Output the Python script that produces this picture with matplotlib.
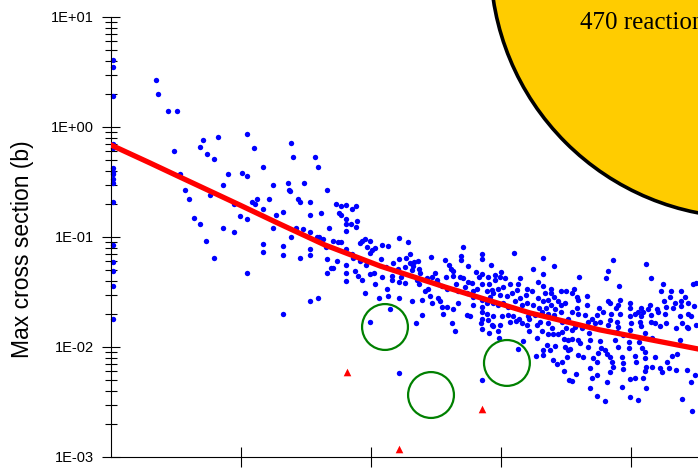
import numpy as np
import matplotlib
matplotlib.use("Agg")
import matplotlib.pyplot as plt
import matplotlib.ticker as ticker
from matplotlib.patches import Circle

# maximum cross sections (b), grouped by region of the x range
x_axis = [0.8, 0.8, 0.8, 0.8, 0.8, 0.8, 0.8, 0.8, 0.8, 0.8, 0.8, 0.8, 0.8, 0.8, 0.8, 0.8]
s_axis = [4.1, 3.5, 1.9, 0.70, 0.64, 0.42, 0.39, 0.37, 0.34, 0.31, 0.21, 0.085, 0.059, 0.049, 0.036, 0.018]

x_light = [
    17.3, 18.1, 21.9, 25.4, 24.2, 26.5, 28.5, 30.0, 31.9, 34.2, 36.5, 39.6,
    34.2, 35.4, 36.9, 39.6, 41.2, 38.1, 43.1, 45.0, 43.1, 47.3, 47.3, 49.6,
    50.4, 52.3, 52.3, 55.0, 52.3, 52.3, 54.2, 55.4, 56.2, 58.5, 58.5, 58.5,
    58.5, 60.8, 62.3, 62.3, 63.5, 66.2, 66.2, 66.2, 68.1, 68.5, 68.8, 69.2,
    70.0, 69.2, 71.2, 71.9, 72.7, 72.7, 74.2, 73.8, 76.5, 76.5, 76.5, 76.5,
    76.5, 78.5, 79.6, 79.2, 80.0, 80.8, 81.5, 83.1, 83.8, 83.1, 83.1, 83.1,
    84.6, 85.4, 86.5, 85.4, 86.9, 87.7, 87.3, 66.2, 76.5, 79.6,
]
s_light = [
    2.7, 2.0, 1.4, 1.4, 0.60, 0.37, 0.27, 0.22, 0.15, 0.13, 0.092, 0.064,
    0.66, 0.76, 0.57, 0.51, 0.81, 0.24, 0.30, 0.37, 0.12, 0.11, 0.20, 0.155,
    0.38, 0.36, 0.86, 0.64, 0.146, 0.047, 0.21, 0.20, 0.22, 0.43, 0.18, 0.086,
    0.073, 0.22, 0.30, 0.12, 0.16, 0.17, 0.083, 0.069, 0.31, 0.27, 0.26, 0.72,
    0.53, 0.10, 0.12, 0.22, 0.21, 0.064, 0.31, 0.118, 0.21, 0.16, 0.11, 0.078,
    0.069, 0.53, 0.43, 0.10, 0.10, 0.165, 0.096, 0.27, 0.12, 0.083, 0.063, 0.047,
    0.052, 0.052, 0.20, 0.092, 0.061, 0.165, 0.090, 0.020, 0.026, 0.028,
]

x_mid = [
    88.5, 90.4, 88.5, 92.7, 94.2, 90.4, 90.4, 92.3, 94.6, 94.2, 90.4, 88.5,
    82.7, 90.4, 92.7, 95.8, 96.5, 97.7, 99.6, 98.5, 100.4, 101.5, 99.6, 104.2,
    106.5, 110.8, 114.2, 115.0, 113.5, 90.4, 90.4, 90.4, 93.8, 95.0, 96.5, 93.1,
    95.8, 98.1, 99.6, 101.2, 101.5, 97.7, 103.8, 105.8, 104.2, 106.2, 106.5, 103.1,
    108.5, 110.8, 108.1, 108.1, 110.4, 111.5, 110.8, 113.1, 113.1, 110.8, 115.0, 116.2,
    116.5, 118.1, 115.8, 118.5, 118.8, 117.7, 118.5, 121.5, 121.9, 120.8, 123.1, 123.5,
    125.4, 125.8, 127.3, 124.6, 128.5, 115.8, 119.6, 122.7, 123.5, 125.8, 126.5, 107.3,
    99.6, 110.8, 117.3, 119.6,
]
s_mid = [
    0.19, 0.195, 0.16, 0.18, 0.19, 0.146, 0.13, 0.13, 0.14, 0.123, 0.113, 0.090,
    0.081, 0.078, 0.070, 0.088, 0.092, 0.096, 0.092, 0.081, 0.076, 0.079, 0.072, 0.085,
    0.083, 0.098, 0.090, 0.070, 0.064, 0.056, 0.047, 0.040, 0.049, 0.044, 0.041, 0.064,
    0.061, 0.056, 0.046, 0.047, 0.037, 0.031, 0.063, 0.053, 0.043, 0.034, 0.029, 0.028,
    0.058, 0.063, 0.044, 0.041, 0.051, 0.043, 0.039, 0.053, 0.038, 0.028, 0.058, 0.055,
    0.059, 0.061, 0.050, 0.051, 0.047, 0.041, 0.037, 0.042, 0.034, 0.032, 0.066, 0.043,
    0.041, 0.037, 0.036, 0.047, 0.062, 0.026, 0.027, 0.029, 0.025, 0.028, 0.026, 0.022,
    0.017, 0.0058, 0.0165, 0.0195,
]

x_heavy = [
    135.4, 134.6, 134.6, 142.7, 142.7, 155.0, 130.0, 137.3, 146.2, 130.8, 131.5, 140.4,
    142.7, 150.0, 128.8, 131.5, 134.2, 135.4, 137.3, 138.8, 141.5, 145.0, 147.7, 149.6,
    151.5, 147.7, 145.4, 142.7, 140.8, 157.3, 156.5, 160.0, 153.5, 150.8, 148.8, 146.5,
    144.6, 146.9, 149.6, 152.3, 154.2, 156.2, 159.6, 157.3, 145.8, 136.2, 132.7, 129.2,
    133.5, 136.9, 139.2, 139.2, 127.3, 129.2, 133.5, 131.5, 139.2, 142.7, 142.7, 144.6,
    146.9, 148.8, 150.8, 152.7, 155.4, 158.1, 160.0, 160.4, 152.7, 154.6, 156.9, 150.4,
    146.9, 144.6, 142.7, 136.9, 138.1, 142.7, 127.7, 131.2, 145.0, 146.5, 149.6, 153.5,
    155.8, 158.1, 142.3,
]
s_heavy = [
    0.081, 0.067, 0.062, 0.070, 0.063, 0.072, 0.056, 0.055, 0.056, 0.051, 0.049, 0.048,
    0.046, 0.048, 0.043, 0.044, 0.043, 0.042, 0.039, 0.038, 0.043, 0.043, 0.045, 0.043,
    0.042, 0.041, 0.037, 0.037, 0.034, 0.042, 0.037, 0.034, 0.037, 0.035, 0.034, 0.033,
    0.032, 0.031, 0.030, 0.029, 0.031, 0.033, 0.030, 0.028, 0.0285, 0.035, 0.037, 0.034,
    0.032, 0.031, 0.032, 0.0285, 0.023, 0.023, 0.025, 0.022, 0.024, 0.027, 0.023, 0.025,
    0.025, 0.024, 0.025, 0.023, 0.026, 0.024, 0.025, 0.019, 0.0195, 0.019, 0.018, 0.019,
    0.019, 0.020, 0.021, 0.0195, 0.019, 0.018, 0.020, 0.0165, 0.0176, 0.016, 0.016, 0.017,
    0.0172, 0.0165, 0.0165,
]

x_rare = [
    166.2, 162.3, 170.4, 166.2, 193.1, 191.2, 190.4, 180.0, 164.2, 166.2, 169.2, 161.9,
    173.1, 175.0, 178.1, 177.3, 169.2, 166.9, 170.4, 164.2, 166.2, 168.1, 171.9, 173.1,
    174.6, 179.2, 183.1, 179.6, 183.1, 191.2, 162.3, 164.6, 167.3, 169.2, 170.8, 173.1,
    170.4, 168.1, 165.8, 163.1, 177.3, 179.2, 179.6, 182.3, 187.7, 189.2, 186.9, 192.3,
    185.0, 160.8, 165.0, 163.8, 168.1, 173.5, 175.8, 183.5, 186.2, 188.1, 191.2, 160.0,
    169.6, 175.0, 178.5, 181.2,
]
s_rare = [
    0.064, 0.051, 0.055, 0.046, 0.062, 0.049, 0.042, 0.043, 0.039, 0.036, 0.034, 0.032,
    0.032, 0.032, 0.034, 0.031, 0.031, 0.031, 0.0285, 0.028, 0.026, 0.027, 0.026, 0.024,
    0.025, 0.0285, 0.029, 0.027, 0.024, 0.026, 0.024, 0.0226, 0.0226, 0.024, 0.022, 0.021,
    0.0195, 0.020, 0.021, 0.0195, 0.021, 0.0226, 0.020, 0.0195, 0.0226, 0.021, 0.0195, 0.020,
    0.018, 0.018, 0.017, 0.016, 0.0165, 0.017, 0.018, 0.017, 0.0165, 0.017, 0.0158, 0.0158,
    0.015, 0.015, 0.0152, 0.015,
]

x_top = [
    205.8, 207.7, 195.4, 212.3, 211.5, 215.4, 219.2, 223.8, 225.0, 215.0, 220.8, 219.2,
    212.7, 216.9, 191.9, 195.8, 195.0, 194.2, 199.6, 199.6, 203.8, 204.6, 207.3, 206.5,
    210.0, 213.5, 216.2, 219.2, 221.9, 224.2, 202.7, 201.5, 199.6, 195.8, 191.9, 194.6,
    203.8, 207.7, 210.4, 213.1, 221.9, 223.1, 218.8, 207.7, 203.5, 200.0, 209.2, 211.2,
    213.5, 219.6, 225.0, 203.8, 195.0, 217.3, 221.9,
]
s_top = [
    0.057, 0.042, 0.036, 0.037, 0.032, 0.032, 0.032, 0.037, 0.038, 0.0285, 0.0285, 0.026,
    0.026, 0.025, 0.025, 0.027, 0.024, 0.0226, 0.025, 0.0226, 0.0226, 0.021, 0.024, 0.022,
    0.022, 0.023, 0.0226, 0.0236, 0.025, 0.0236, 0.021, 0.020, 0.019, 0.020, 0.0176, 0.017,
    0.019, 0.0195, 0.021, 0.020, 0.020, 0.019, 0.019, 0.017, 0.017, 0.0165, 0.0165, 0.0155,
    0.0165, 0.0165, 0.0158, 0.0155, 0.0152, 0.0149, 0.0149,
]

x_low = [
    132.3, 142.7, 145.4, 146.9, 148.8, 149.2, 158.5, 156.5, 160.8, 163.8, 163.5, 165.8,
    168.1, 170.0, 171.9, 173.5, 167.7, 170.8, 166.2, 168.8, 166.2, 174.2, 175.8, 174.6,
    175.8, 175.4, 170.0, 173.5, 171.5, 174.2, 176.2, 142.7,
    177.3, 177.3, 179.6, 180.4, 176.5, 179.6, 181.5, 183.5, 184.2, 183.8, 188.1, 188.5,
    190.0, 190.8, 191.9, 187.3, 185.4, 186.9, 192.7, 193.1, 191.9, 196.9, 196.9, 196.5,
    193.8, 194.6, 195.0, 199.6, 199.2, 199.2, 201.5, 201.9, 203.1, 204.2, 205.4, 205.4,
    205.8, 205.4, 204.6, 208.1, 209.2, 211.2, 211.9, 213.8, 214.6, 215.8, 217.7, 218.8,
    217.3, 221.5, 224.6, 223.1, 177.3, 178.8, 184.2, 185.0, 186.9, 184.2, 190.8, 196.5,
    199.6, 201.5, 205.8, 186.9, 190.0, 199.6, 202.7, 219.6, 223.5, 221.5, 196.9, 205.4,
    208.1,
]
s_low = [
    0.014, 0.0146, 0.0134, 0.0155, 0.014, 0.0121, 0.0113, 0.0096, 0.014, 0.0121, 0.0083, 0.014,
    0.0131, 0.0131, 0.0131, 0.0137, 0.0104, 0.0102, 0.0094, 0.0094, 0.0085, 0.0118, 0.0116, 0.010,
    0.0094, 0.0081, 0.0076, 0.0073, 0.0070, 0.0061, 0.0050, 0.0050,
    0.0143, 0.0118, 0.0116, 0.0109, 0.0096, 0.0085, 0.0081, 0.010, 0.0116, 0.0134, 0.0113, 0.0098,
    0.0094, 0.0086, 0.0081, 0.0088, 0.0079, 0.0073, 0.0073, 0.0066, 0.0059, 0.0072, 0.0063, 0.0081,
    0.0116, 0.0137, 0.010, 0.0143, 0.0111, 0.0098, 0.0083, 0.0073, 0.0111, 0.0098, 0.0090, 0.0079,
    0.0066, 0.0061, 0.0052, 0.0066, 0.0081, 0.0064, 0.0059, 0.0073, 0.0064, 0.0083, 0.0086, 0.0116,
    0.0062, 0.0062, 0.0056, 0.0048, 0.0049, 0.0057, 0.0064, 0.0052, 0.0056, 0.0042, 0.0048, 0.0043,
    0.0051, 0.0052, 0.0042, 0.0036, 0.0032, 0.0035, 0.0033, 0.0034, 0.0026, 0.0152, 0.0128, 0.0134,
    0.0121,
]

# fitted trend
fit_x = [0, 15, 26.5, 49.6, 65, 82.3, 103.5, 128.5, 161.2, 188.1, 225.8]
fit_s = [0.686, 0.471, 0.351, 0.195, 0.131, 0.0846, 0.0545, 0.0351, 0.0204, 0.0143, 0.0096]

# flagged reactions
tri_x = [90.8, 110.8, 142.7]
tri_s = [0.0059, 0.00118, 0.00273]
ring_x = [105.4, 123.1, 152.3]
ring_s = [0.0152, 0.00366, 0.00716]

n_reactions = 470

x_all = np.concatenate([x_axis, x_light, x_mid, x_heavy, x_rare, x_top, x_low])
s_all = np.concatenate([s_axis, s_light, s_mid, s_heavy, s_rare, s_top, s_low])

sans = ["Liberation Sans", "DejaVu Sans"]

fig = plt.figure(figsize=(6.98, 4.70), dpi=100)
ax = fig.add_axes([111 / 698, 13 / 470, 587 / 698, 440 / 470])

ax.scatter(x_all, s_all, s=15, color="#0000ff", linewidths=0, zorder=2, clip_on=False)
ax.plot(fit_x, fit_s, color="#ff0000", linewidth=3.8, zorder=3)
ax.scatter(tri_x, tri_s, s=30, marker="^", color="#ff0000", linewidths=0, zorder=4)
ax.scatter(ring_x, ring_s, s=1090, facecolors="none", edgecolors="#008000",
           linewidths=1.6, zorder=4)

ax.set_yscale("log")
ax.set_ylim(1e-3, 1e1)
ax.set_xlim(0, 225.8)
ax.set_xticks([50, 100, 150, 200])
ax.xaxis.set_major_formatter(ticker.NullFormatter())
ax.yaxis.set_major_locator(ticker.LogLocator(base=10, numticks=10))
ax.yaxis.set_minor_locator(ticker.LogLocator(base=10, subs=np.arange(2, 10), numticks=10))
ax.yaxis.set_minor_formatter(ticker.NullFormatter())
ax.yaxis.set_major_formatter(ticker.FuncFormatter(lambda v, p: "1E{:+03d}".format(int(round(np.log10(v))))))

ax.tick_params(axis="y", which="major", direction="inout", length=13, width=0.8, pad=6)
ax.tick_params(axis="y", which="minor", direction="inout", length=8.6, width=0.8)
ax.tick_params(axis="x", which="major", direction="inout", length=14.4, width=0.8)
for lab in ax.get_yticklabels():
    lab.set_fontfamily(sans)
    lab.set_fontsize(10.5)

ax.spines["top"].set_visible(False)
ax.spines["right"].set_visible(False)
ax.spines["left"].set_linewidth(0.8)
ax.spines["bottom"].set_linewidth(0.8)

fig.text(23 / 698, 1 - 249 / 470, "Max cross section (b)", rotation=90,
         ha="center", va="center", fontsize=16.5, family=sans)

# summary bubble
bubble = Circle((7.47, 5.09), 2.566, transform=fig.dpi_scale_trans,
                facecolor="#ffcc00", edgecolor="black", linewidth=2.6, zorder=10)
fig.add_artist(bubble)
fig.text(580 / 698, 1 - 29 / 470, f"{n_reactions} reactions", ha="left", va="baseline",
         fontsize=18, family="Liberation Serif", zorder=11)

fig.savefig("out.png", dpi=100)
